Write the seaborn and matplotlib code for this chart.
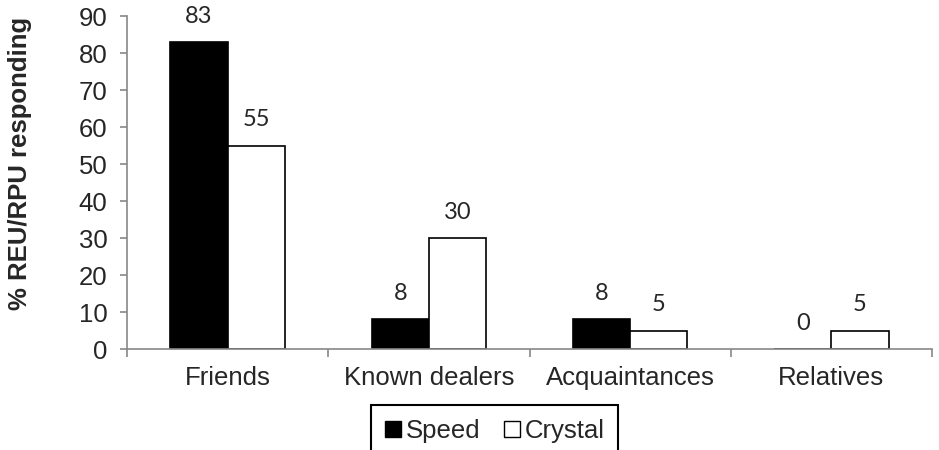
import pandas as pd
import matplotlib.pyplot as plt
import seaborn as sns

# 数据
sources = ['Friends', 'Known dealers', 'Acquaintances', 'Relatives']
speed = [83, 8, 8, 0]
crystal = [55, 30, 5, 5]

df = pd.DataFrame({
    'source': sources * 2,
    'pct': speed + crystal,
    'drug': ['Speed'] * 4 + ['Crystal'] * 4,
})

sns.set_style('white')
plt.rcParams['font.family'] = ['Liberation Sans', 'DejaVu Sans']

fig = plt.figure(figsize=(9.39, 4.5), dpi=100)
ax = fig.add_axes([0.1353, 0.2244, 0.8572, 0.74])

sns.barplot(data=df, x='source', y='pct', hue='drug', order=sources,
            hue_order=['Speed', 'Crystal'], palette=['black', 'white'],
            edgecolor='black', linewidth=1.2, width=0.57, ax=ax, legend=False)

for cont in ax.containers:
    ax.bar_label(cont, labels=[f'{v:.0f}' for v in cont.datavalues], padding=11,
                 fontsize=17, family=['Lato', 'DejaVu Sans'])

ax.set_ylim(0, 90)
ax.set_xlim(-0.5, 3.5)
ax.set_yticks(range(0, 91, 10))
ax.tick_params(axis='y', labelsize=18.5, length=5, width=1.2, color='#888888',
               direction='out', left=True, pad=9)
ax.set_xticks([-0.5, 0.5, 1.5, 2.5, 3.5])
ax.set_xticklabels([])
ax.set_xticks(range(4), minor=True)
ax.set_xticklabels(sources, minor=True, fontsize=18.5)
ax.tick_params(axis='x', which='major', length=6, width=1.2, color='#888888',
               direction='out', bottom=True)
ax.tick_params(axis='x', which='minor', length=0, pad=12)

for s in ['top', 'right']:
    ax.spines[s].set_visible(False)
for s in ['left', 'bottom']:
    ax.spines[s].set_color('#888888')
    ax.spines[s].set_linewidth(1.2)

ax.set_xlabel('')
ax.set_ylabel('% REU/RPU responding', fontsize=18.5, fontweight='bold')
ax.yaxis.set_label_coords(-0.118, 0.556)

handles = [plt.Rectangle((0, 0), 1, 1, facecolor='black', edgecolor='black'),
           plt.Rectangle((0, 0), 1, 1, facecolor='white', edgecolor='black')]
leg = fig.legend(handles, ['Speed', 'Crystal'], loc='upper center',
                 bbox_to_anchor=(0.527, 0.1), ncol=2, fontsize=18.5,
                 frameon=True, fancybox=False, framealpha=1, edgecolor='black',
                 handlelength=0.62, handleheight=0.62, handletextpad=0.18,
                 columnspacing=0.9, borderpad=0.55, borderaxespad=0)
leg.get_frame().set_linewidth(1.5)

plt.savefig('out.png', dpi=100)
